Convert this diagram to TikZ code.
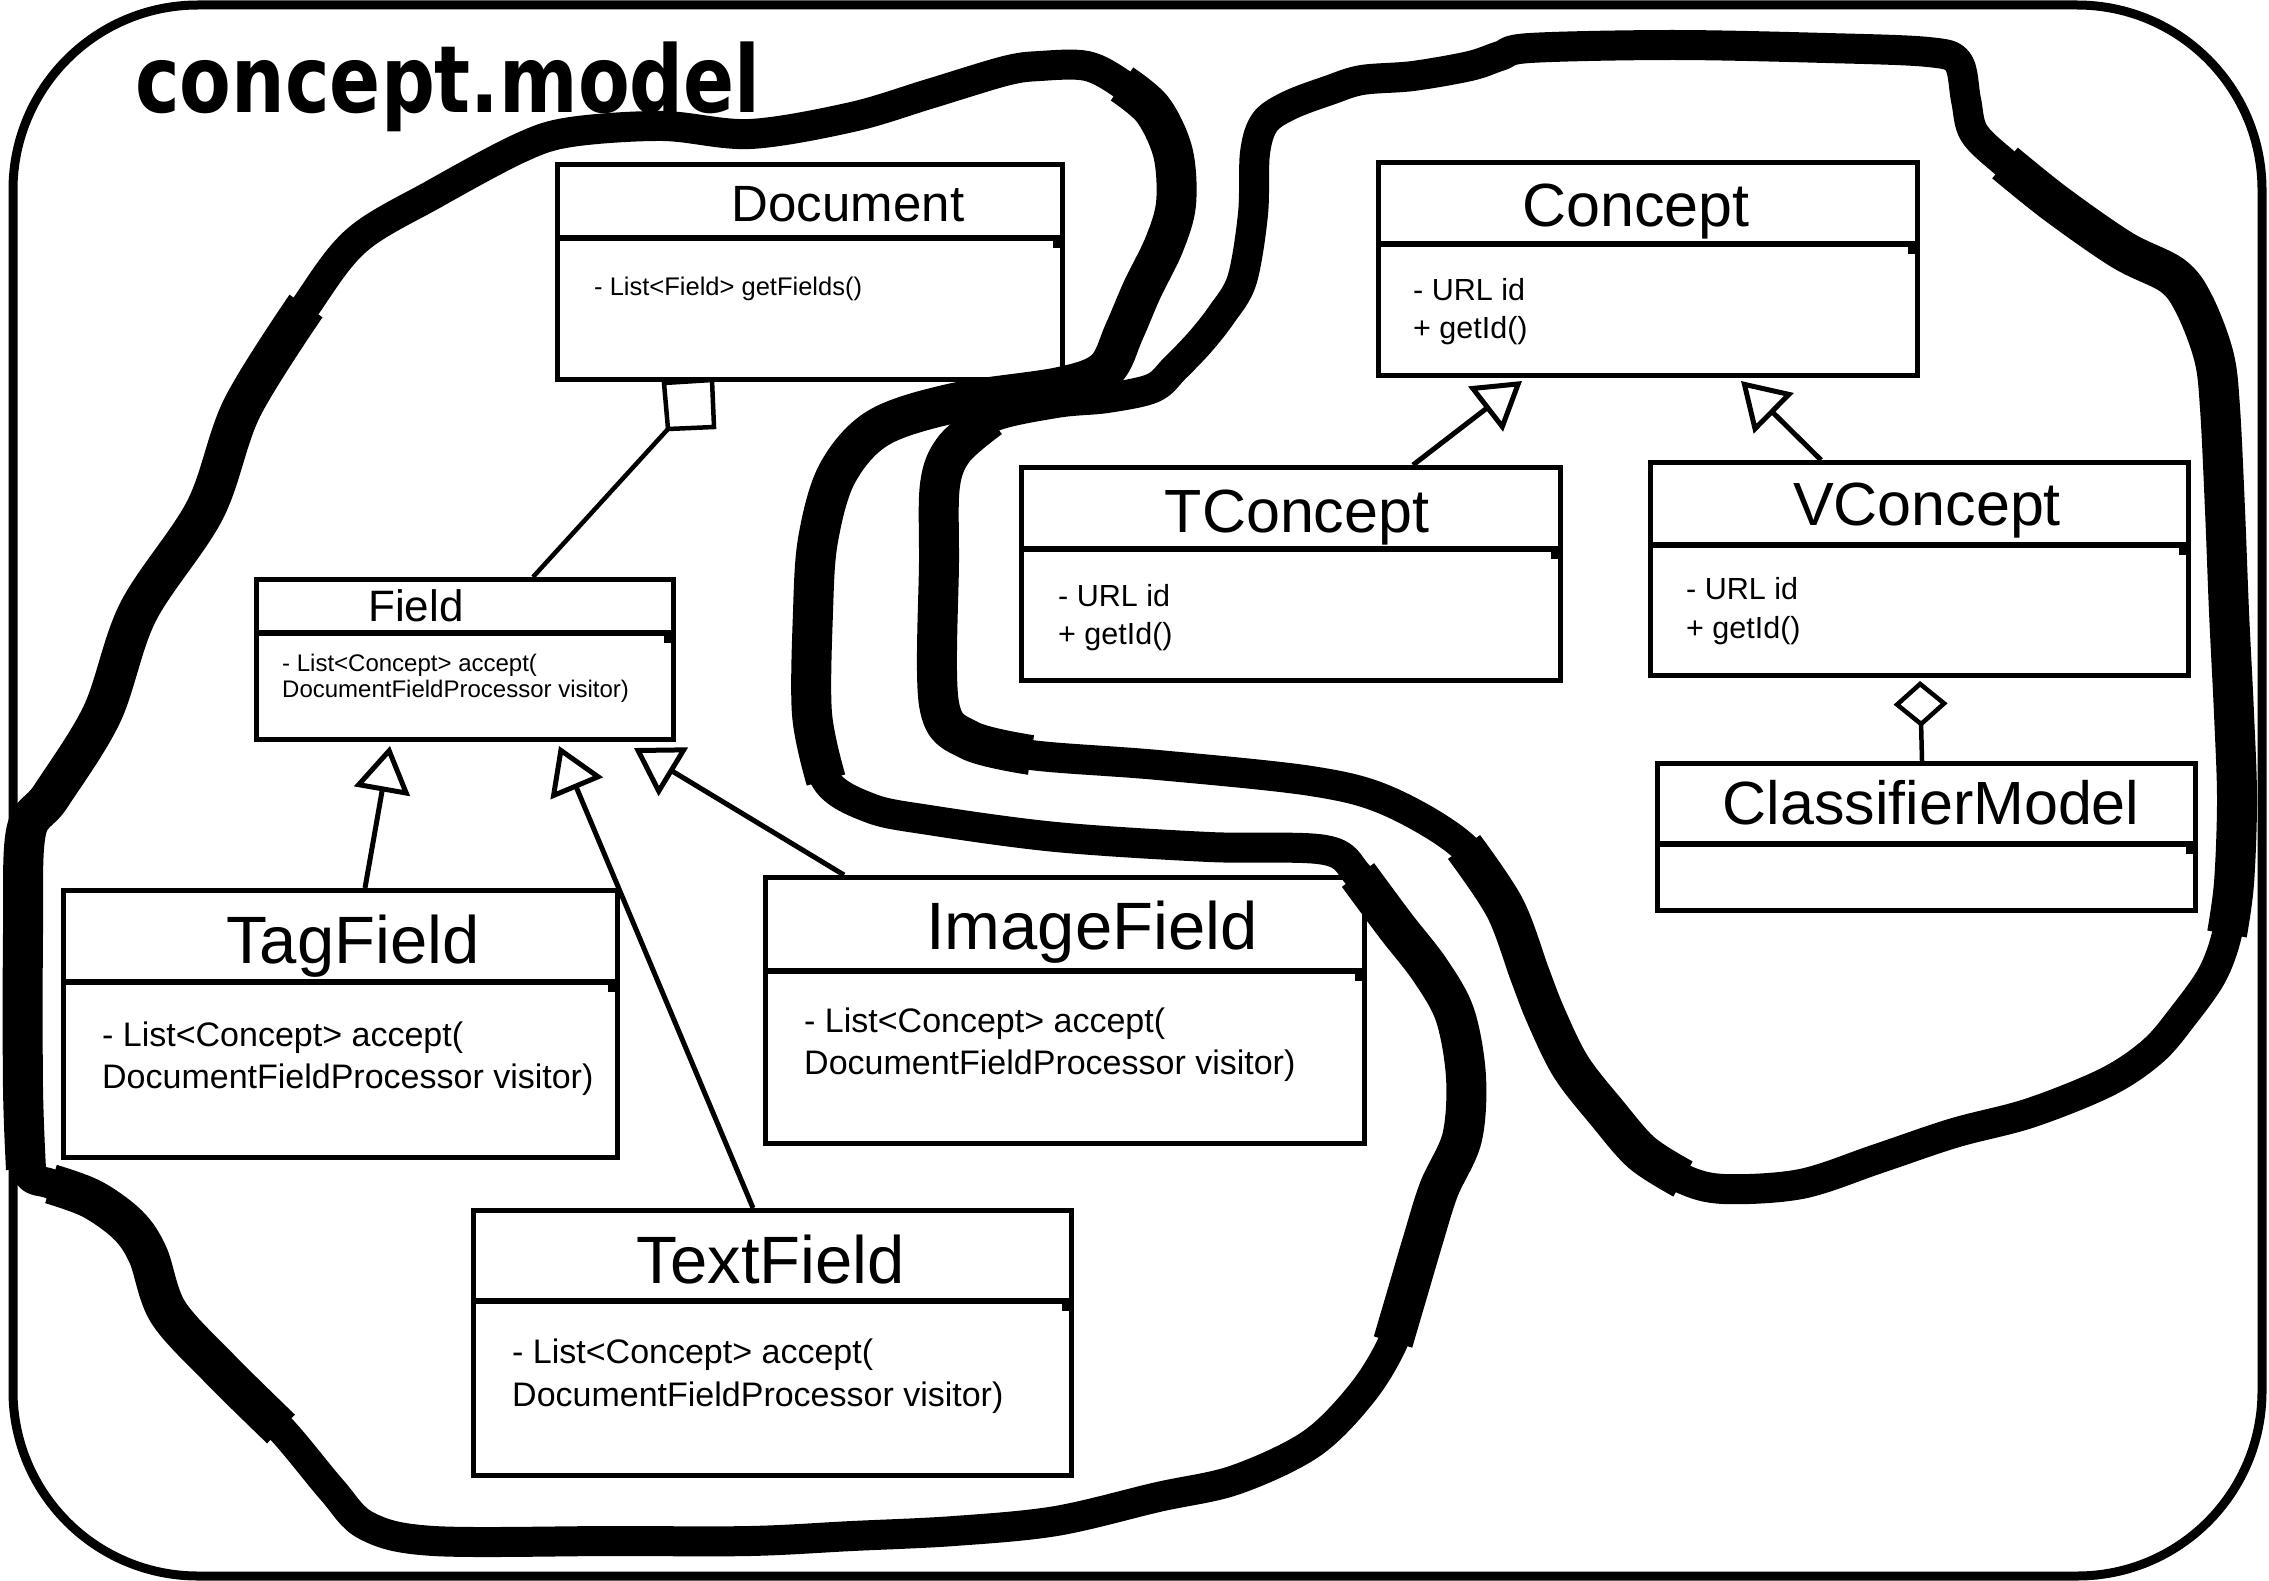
\documentclass[tikz,border=0pt]{standalone}
\usepackage{fontspec}
\usepackage{graphicx}
\setmainfont{Liberation Sans}
\newfontfamily\titlefont{DejaVu Sans}
\usetikzlibrary{arrows.meta,calc}
\newcommand\fsz[1]{\fontsize{#1}{#1}\selectfont}
\newcommand\umlsep[2]{%
  \draw[sepline] (#1.west |- 0,#2) -- (#1.east |- 0,#2);
  \path (#1.east |- 0,#2) coordinate (#1sepE);
  \fill ($(#1sepE)+(-12,0)$) rectangle ($(#1sepE)+(-5,10)$);
}
\tikzset{
  box/.style={draw, line width=5pt, fill=white, inner sep=0pt, anchor=north west},
  sepline/.style={line width=6pt},
  ttl/.style={inner sep=0pt, anchor=base},
  attr/.style={inner sep=0pt, anchor=base west},
  gen/.style={line width=5pt, -{Triangle[open, length=46pt, width=56pt]}},
  aggr/.style={line width=4.5pt, -{Diamond[open, length=46pt, width=54pt]}},
  assoc/.style={line width=4.5pt},
  blob/.style={line width=30pt, line cap=round, line join=round},
  blobthick/.style={line width=40pt, line cap=butt, line join=round},
}
\begin{document}
\begin{tikzpicture}[x=1pt,y=-1pt]
\useasboundingbox (0,0) rectangle (2269,1581);
\fill[white] (0,0) rectangle (2269,1581);

% outer package frame
\draw[line width=9pt, rounded corners=185pt] (13,5) rectangle (2262,1576);
\node[inner sep=0pt, anchor=base west] (pkgtitle) at (135,113)
  {\titlefont\bfseries\fsz{93}\scalebox{0.81}[1]{concept.model}};

% ---------- class boxes ----------
\node[box, minimum width=505pt, minimum height=215pt] (Document) at (555,162) {};
\umlsep{Document}{238}
\node[ttl] (DocumentT) at (848,222) {\fsz{51}Document};
\node[attr] (DocumentA1) at (594,295) {\fsz{25.5}- List<Field> getFields()};

\node[box, minimum width=417pt, minimum height=160pt] (Field) at (254,577) {};
\umlsep{Field}{633}
\node[ttl] (FieldT) at (416,621) {\fsz{44}Field};
\node[attr] (FieldA1) at (282,671) {\fsz{24}- List<Concept> accept(};
\node[attr] (FieldA2) at (282,697) {\fsz{24}DocumentFieldProcessor visitor)};

\node[box, minimum width=554pt, minimum height=267pt] (TagField) at (61,888) {};
\umlsep{TagField}{982}
\node[ttl] (TagFieldT) at (353,963) {\fsz{67}TagField};
\node[attr] (TagFieldA1) at (102,1046) {\fsz{34}- List<Concept> accept(};
\node[attr] (TagFieldA2) at (102,1088) {\fsz{34}DocumentFieldProcessor visitor)};

\node[box, minimum width=599pt, minimum height=266pt] (ImageField) at (763,875) {};
\umlsep{ImageField}{971}
\node[ttl] (ImageFieldT) at (1092,949) {\fsz{67}ImageField};
\node[attr] (ImageFieldA1) at (804,1032) {\fsz{34}- List<Concept> accept(};
\node[attr] (ImageFieldA2) at (804,1074) {\fsz{34}DocumentFieldProcessor visitor)};

\node[box, minimum width=598pt, minimum height=265pt] (TextField) at (471,1208) {};
\umlsep{TextField}{1301}
\node[ttl] (TextFieldT) at (771,1283) {\fsz{67}TextField};
\node[attr] (TextFieldA1) at (512,1363) {\fsz{34}- List<Concept> accept(};
\node[attr] (TextFieldA2) at (512,1406) {\fsz{34}DocumentFieldProcessor visitor)};

\node[box, minimum width=539pt, minimum height=213pt] (Concept) at (1376,160) {};
\umlsep{Concept}{244}
\node[ttl] (ConceptT) at (1636,226) {\fsz{61}Concept};
\node[attr] (ConceptA1) at (1413,300) {\fsz{30.5}- URL id};
\node[attr] (ConceptA2) at (1413,338) {\fsz{30.5}+ getId()};

\node[box, minimum width=539pt, minimum height=213pt] (TConcept) at (1019,465) {};
\umlsep{TConcept}{549}
\node[ttl] (TConceptT) at (1297,532) {\fsz{61}TConcept};
\node[attr] (TConceptA1) at (1058,606) {\fsz{30.5}- URL id};
\node[attr] (TConceptA2) at (1058,644) {\fsz{30.5}+ getId()};

\node[box, minimum width=538pt, minimum height=213pt] (VConcept) at (1648,460) {};
\umlsep{VConcept}{545}
\node[ttl] (VConceptT) at (1927,525) {\fsz{61}VConcept};
\node[attr] (VConceptA1) at (1686,599) {\fsz{30.5}- URL id};
\node[attr] (VConceptA2) at (1686,638) {\fsz{30.5}+ getId()};

\node[box, minimum width=538pt, minimum height=147pt] (ClassifierModel) at (1655,761) {};
\umlsep{ClassifierModel}{844}
\node[ttl] (ClassifierModelT) at (1931,824) {\fsz{61}ClassifierModel};

% ---------- connectors ----------
\coordinate (sq1) at ($(Document.south west)+(109,1)$);
\coordinate (sq2) at ($(Document.south west)+(157,-2)$);
\coordinate (sq3) at ($(Document.south west)+(159,45)$);
\coordinate (sq4) at ($(Document.south west)+(113,47)$);
\draw[assoc, fill=white] (sq1) -- (sq2) -- (sq3) -- (sq4) -- cycle;
\draw[assoc] (sq4) -- ($(Field.north west)+(279,0)$);

\draw[gen] ($(TagField.north west)+(304,0)$) -- ($(Field.south west)+(136,4)$);
\draw[gen] ($(TextField.north west)+(282,0)$) -- ($(Field.south west)+(305,4)$);
\draw[gen] ($(ImageField.north west)+(81,0)$) -- ($(Field.south west)+(380,6)$);
\draw[gen] ($(TConcept.north west)+(394,0)$) -- ($(Concept.south west)+(146,3)$);
\draw[gen] ($(VConcept.north west)+(173,0)$) -- ($(Concept.south west)+(365,3)$);
\draw[aggr] ($(ClassifierModel.north west)+(267,0)$) -- ($(VConcept.south west)+(272,3)$);

% ---------- freehand group outlines ----------
% left group
\draw[blob] plot[smooth cycle, tension=0.55] coordinates {
 (23,934) (26,832) (51,796) (102,714) (138,612) (205,510) (242,408) (306,306)
 (357,240) (434,194) (520,148) (571,132) (663,126) (750,134) (852,117) (929,94)
 (1005,71) (1040,66) (1087,66) (1122,84) (1153,110) (1173,153) (1176,204)
 (1164,245) (1142,290) (1124,332) (1105,370) (1060,387) (954,403) (878,428)
 (837,474) (818,540) (813,612) (812,714) (826,780) (870,808) (929,820)
 (1056,837) (1209,847) (1325,850) (1358,875) (1395,925) (1430,970) (1455,1015)
 (1466,1077) (1462,1138) (1439,1189) (1423,1240) (1408,1291) (1393,1342)
 (1362,1393) (1311,1444) (1235,1480) (1158,1497) (1056,1521) (954,1531)
 (852,1536) (750,1541) (612,1541) (434,1541) (367,1526) (332,1490) (281,1429)
 (219,1368) (168,1312) (148,1255) (128,1225) (92,1199) (51,1184) (26,1169)
 (23,1087)};
\draw[blobthick] plot[smooth, tension=0.55] coordinates {
 (306,306) (242,408) (205,510) (138,612) (102,714) (51,796) (26,832) (23,934)
 (23,1087) (26,1169)};
\draw[blobthick] plot[smooth, tension=0.55] coordinates {
 (51,1184) (92,1199) (128,1225) (148,1255) (168,1312) (219,1368) (281,1429)};
\draw[blobthick] plot[smooth, tension=0.55] coordinates {
 (1122,84) (1153,110) (1173,153) (1176,204) (1164,245) (1142,290) (1124,332)
 (1105,370) (1060,387) (954,403) (878,428) (837,474) (818,540) (813,612)
 (812,714) (826,780)};
\draw[blobthick] plot[smooth, tension=0.55] coordinates {
 (1358,875) (1395,925) (1430,970) (1455,1015) (1466,1077) (1462,1138)
 (1439,1189) (1423,1240) (1408,1291) (1393,1342)};

% right group
\draw[blob] plot[smooth cycle, tension=0.55] coordinates {
 (939,704) (939,561) (940,485) (954,449) (990,418) (1056,403) (1107,398)
 (1153,388) (1175,368) (1200,342) (1222,314) (1242,280) (1253,214) (1255,153)
 (1265,122) (1290,105) (1330,90) (1362,80) (1413,76) (1470,66) (1500,56)
 (1530,48) (1673,45) (1826,48) (1928,52) (1958,62) (1966,100) (1974,133)
 (2005,163) (2056,204) (2122,250) (2173,276) (2195,306) (2214,357) (2220,408)
 (2225,510) (2229,612) (2234,714) (2237,800) (2234,883) (2227,934) (2212,975)
 (2183,1016) (2153,1051) (2107,1082) (2030,1113) (1954,1133) (1877,1159)
 (1801,1184) (1724,1189) (1683,1179) (1642,1153) (1607,1113) (1571,1067)
 (1546,1016) (1530,975) (1505,908) (1464,847) (1388,801) (1311,781)
 (1158,765) (1031,755) (969,740)};
\draw[blobthick] plot[smooth, tension=0.55] coordinates {
 (1031,755) (969,740) (939,704) (939,561) (940,485) (954,449) (990,418)};
\draw[blobthick] plot[smooth, tension=0.55] coordinates {
 (2005,163) (2056,204) (2122,250) (2173,276) (2195,306) (2214,357) (2220,408)
 (2225,510) (2229,612) (2234,714) (2237,800) (2234,883) (2227,934)};
\draw[blobthick] plot[smooth, tension=0.55] coordinates {
 (1683,1179) (1642,1153) (1607,1113) (1571,1067) (1546,1016) (1530,975)
 (1505,908) (1464,847)};
\end{tikzpicture}
\end{document}
